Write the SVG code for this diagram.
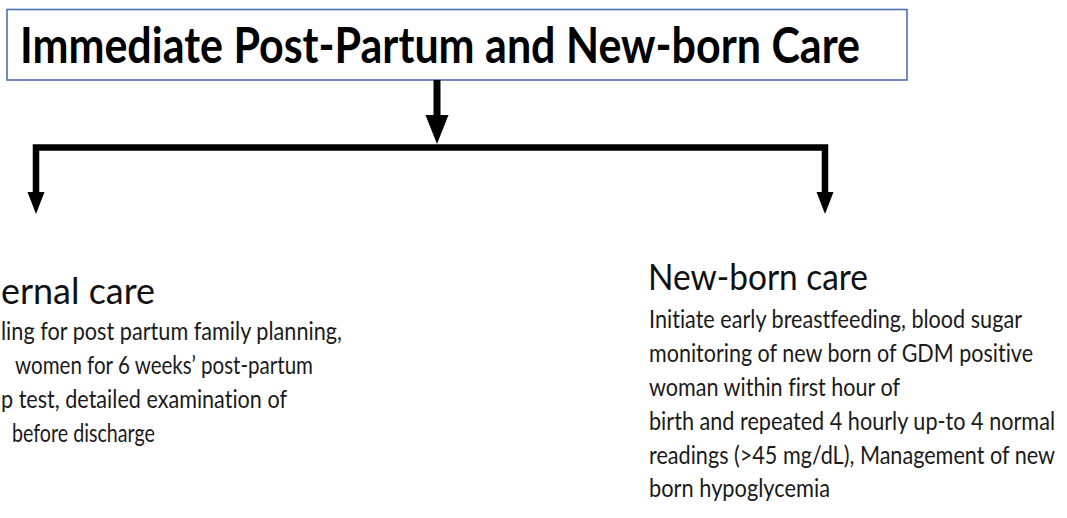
<svg xmlns="http://www.w3.org/2000/svg" width="1067" height="518" viewBox="0 0 1067 518">
<style>
  text { font-variant-ligatures: none; font-feature-settings: "liga" 0, "clig" 0; }
  .box { fill: #ffffff; stroke: #4f70b0; stroke-width: 1.6; }
  .title { font-family: Lato, "Open Sans", "Liberation Sans", sans-serif; font-weight: bold; font-size: 50px; fill: #000000; }
  .head { font-family: Lato, "Open Sans", "Liberation Sans", sans-serif; font-size: 36px; fill: #111111; }
  .body { font-family: Lato, "Open Sans", "Liberation Sans", sans-serif; font-size: 21px; fill: #1a1a1a; }
  .wire { fill: none; stroke: #000000; stroke-width: 6.5; stroke-linejoin: miter; stroke-linecap: butt; }
  .head-arrow { fill: #000000; stroke: none; }
</style>
<rect width="1067" height="518" fill="#ffffff"/>
<g id="title-node">
  <rect class="box" x="7" y="9.5" width="900" height="70.5"/>
  <text class="title" x="20" y="63" textLength="840" lengthAdjust="spacingAndGlyphs">Immediate Post-Partum and New-born Care</text>
</g>
<g id="connectors">
  <line class="wire" x1="437" y1="80" x2="437" y2="118" style="stroke-width:7"/>
  <polygon class="head-arrow" points="425.5,115 448.5,115 437,144"/>
  <path class="wire" d="M36,194 V147.5 H825 V194"/>
  <polygon class="head-arrow" points="27.5,192 44.5,192 36,214"/>
  <polygon class="head-arrow" points="816.5,192 833.5,192 825,214"/>
</g>
<g id="maternal-care-node">
  <text class="head" x="1" y="304" textLength="154" lengthAdjust="spacingAndGlyphs">ernal care</text>
  <text class="body" transform="translate(1 340) scale(1 1.2)" textLength="341" lengthAdjust="spacingAndGlyphs">ling for post partum family planning,</text>
  <text class="body" transform="translate(15 374) scale(1 1.2)" textLength="298" lengthAdjust="spacingAndGlyphs">women for 6 weeks’ post-partum</text>
  <text class="body" transform="translate(1 408) scale(1 1.2)" textLength="286" lengthAdjust="spacingAndGlyphs">p test, detailed examination of</text>
  <text class="body" transform="translate(12 442) scale(1 1.2)" textLength="143" lengthAdjust="spacingAndGlyphs">before discharge</text>
</g>
<g id="newborn-care-node">
  <text class="head" x="648" y="290" textLength="220" lengthAdjust="spacingAndGlyphs">New-born care</text>
  <text class="body" transform="translate(649 328) scale(1 1.2)" textLength="373" lengthAdjust="spacingAndGlyphs">Initiate early breastfeeding, blood sugar</text>
  <text class="body" transform="translate(649 362) scale(1 1.2)" textLength="384" lengthAdjust="spacingAndGlyphs">monitoring of new born of GDM positive</text>
  <text class="body" transform="translate(649 396) scale(1 1.2)" textLength="251" lengthAdjust="spacingAndGlyphs">woman within first hour of</text>
  <text class="body" transform="translate(649 430) scale(1 1.2)" textLength="406" lengthAdjust="spacingAndGlyphs">birth and repeated 4 hourly up-to 4 normal</text>
  <text class="body" transform="translate(649 464) scale(1 1.2)" textLength="406" lengthAdjust="spacingAndGlyphs">readings (&gt;45 mg/dL), Management of new</text>
  <text class="body" transform="translate(649 497) scale(1 1.2)" textLength="181" lengthAdjust="spacingAndGlyphs">born hypoglycemia</text>
</g>
</svg>
